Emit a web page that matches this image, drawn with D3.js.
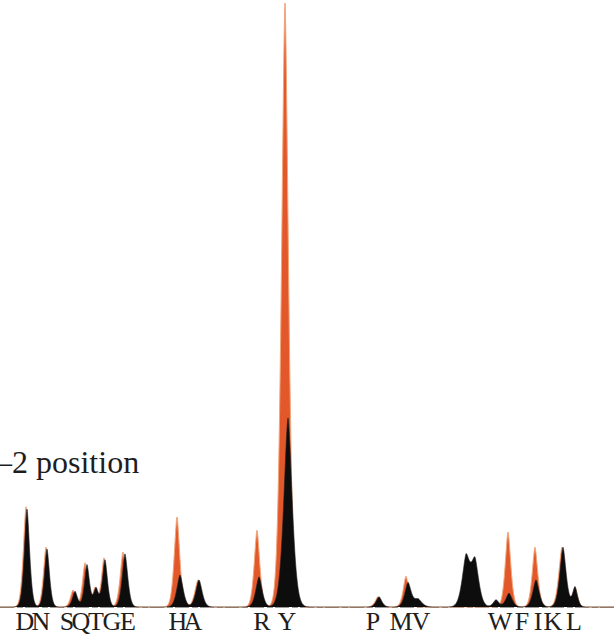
<!DOCTYPE html>
<html>
<head>
<meta charset="utf-8">
<script src="https://cdn.jsdelivr.net/npm/d3@7"></script>
<style>
  html, body { margin: 0; padding: 0; background: #ffffff; }
  svg { display: block; }
</style>
</head>
<body>
<svg id="chart" width="614" height="635"></svg>
<script>
// ---- data (retention time in min, intensity in % of tallest peak) ----
const orangePos    = [2.6, 4.6, 7.3, 8.5, 9.5, 10.4, 12.3, 17.7, 19.8, 25.7, 28.5, 37.8, 40.6, 50.8, 53.5, 56.2, 57.5];
const orangeHeight = [16.6, 9.9, 2.8, 7.3, 3.1, 8.1, 9.1, 14.9, 4.5, 12.7, 100, 1.7, 5.1, 12.4, 9.9, 9.9, 3.3];
const orangeWidth  = [0.38, 0.36, 0.36, 0.36, 0.34, 0.36, 0.4, 0.4, 0.45, 0.4, 0.5, 0.4, 0.4, 0.4, 0.4, 0.45, 0.35];

const blackPos    = [2.7, 4.7, 7.5, 8.7, 9.6, 10.5, 12.5, 18.0, 19.9, 25.9, 28.8, 37.9, 40.8, 41.8, 46.6, 47.5, 49.6, 50.9, 53.6, 56.3, 57.5];
const blackHeight = [16.2, 9.6, 2.6, 7.0, 3.1, 7.8, 8.8, 5.3, 4.5, 5.0, 31.3, 1.7, 4.0, 1.3, 8.0, 7.4, 1.2, 2.3, 4.5, 9.9, 3.3];
const blackWidth  = [0.38, 0.36, 0.36, 0.36, 0.34, 0.36, 0.4, 0.45, 0.45, 0.45, 0.6, 0.4, 0.45, 0.55, 0.55, 0.55, 0.4, 0.45, 0.45, 0.45, 0.35];

const labelText = ["D","N","S","Q","T","G","E","H","A","R","Y","P","M","V","W","F","I","K","L"];
const labelPos  = [2.5, 4.1, 6.7, 8.1, 9.6, 11.2, 12.8, 17.8, 19.3, 26.2, 28.7, 37.3, 40.1, 42.1, 50.0, 52.2, 53.8, 55.3, 57.4];

const titleText = "\u20132 position";

// ---- layout ----
const svg = d3.select("#chart");
const x = d3.scaleLinear().domain([0, 61.4]).range([0, 614]);
const y = d3.scaleLinear().domain([0, 100]).range([607, 3]);

function trace(pos, height, width) {
  const pts = [];
  const step = 0.02;
  for (let t = 0; t <= 61.4 + 1e-9; t += step) {
    let v = 0;
    for (let i = 0; i < pos.length; i++) {
      const d = Math.abs(t - pos[i]) / width[i];
      v += height[i] * Math.exp(-Math.pow(d, 1.6));
    }
    pts.push([t, v]);
  }
  return pts;
}

const area = d3.area()
  .x(d => x(d[0]))
  .y0(y(0))
  .y1(d => y(d[1]));

const line = d3.line()
  .x(d => x(d[0]))
  .y(d => y(d[1]));

const orangeData = trace(orangePos, orangeHeight, orangeWidth);
const blackData = trace(blackPos, blackHeight, blackWidth);

// baseline
svg.append("line")
  .attr("x1", x(0)).attr("x2", x(61.4))
  .attr("y1", y(0) + 0.5).attr("y2", y(0) + 0.5)
  .attr("stroke", "#9a9a9a").attr("stroke-width", 1.2)
  .attr("stroke-dasharray", "14,3,6,2");

// orange trace
svg.append("path")
  .datum(orangeData)
  .attr("d", area)
  .attr("fill", "#e2582a");
svg.append("path")
  .datum(orangeData)
  .attr("d", line)
  .attr("fill", "none")
  .attr("stroke", "#f2a57a")
  .attr("stroke-width", 1);

// black trace
svg.append("path")
  .datum(blackData)
  .attr("d", area)
  .attr("fill", "#0d0d0d");
svg.append("path")
  .datum(blackData)
  .attr("d", line)
  .attr("fill", "none")
  .attr("stroke", "#222")
  .attr("stroke-width", 0.6);

// labels (one text per amino acid)
svg.append("g")
  .selectAll("text")
  .data(labelText)
  .join("text")
  .attr("x", (d, i) => x(labelPos[i]))
  .attr("y", 630)
  .attr("text-anchor", "middle")
  .attr("font-family", "'Liberation Serif', 'Times New Roman', serif")
  .attr("font-size", 26)
  .attr("fill", "#1e1e1e")
  .text(d => d);

// title
svg.append("text")
  .attr("x", -4)
  .attr("y", 473)
  .attr("font-family", "'Liberation Serif', 'Times New Roman', serif")
  .attr("font-size", 32)
  .attr("fill", "#1e1e1e")
  .text(titleText);
</script>
</body>
</html>
